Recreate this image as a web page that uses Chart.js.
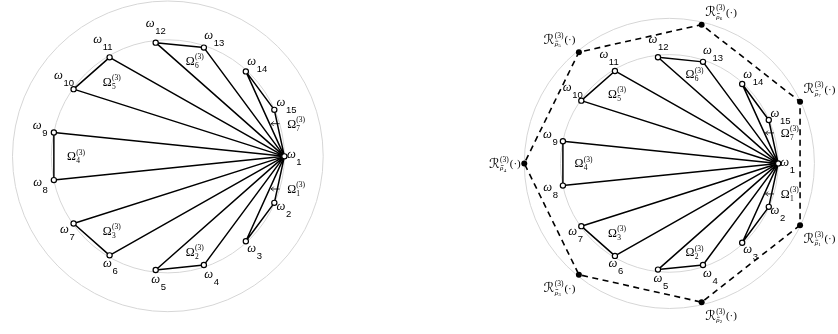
<!DOCTYPE html>
<html>
<head>
<meta charset="utf-8">
<script src="https://cdn.jsdelivr.net/npm/chart.js@4/dist/chart.umd.min.js"></script>
<style>
  html, body { margin: 0; padding: 0; background: #fff; }
  #wrap { width: 838px; height: 334px; position: relative; }
  canvas { display: block; }
</style>
</head>
<body>
<div id="wrap"><canvas id="chart" width="838" height="334"></canvas></div>
<script>
// Sample points ω_1 … ω_15, evenly spaced on the unit circle (ω_1 at angle 0, clockwise).
const NODE_IDS = [1, 2, 3, 4, 5, 6, 7, 8, 9, 10, 11, 12, 13, 14, 15];
// Cells Ω_k^(3): each cell is the triangle ω_1, ω_a, ω_b.
const CELL_IDS = [1, 2, 3, 4, 5, 6, 7];
const CELL_PAIRS = [[2, 3], [4, 5], [6, 7], [8, 9], [10, 11], [12, 13], [14, 15]];
// Cells too thin to carry their name inside; they get an arrow from outside.
const CALLOUT_CELLS = [1, 7];
// Representatives R_{ρ̄_k}^(3)(·) on the outer ring (right panel only).
const REGION_IDS = [1, 2, 3, 4, 5, 6, 7];
const LEVEL = '(3)';

const DEG = Math.PI / 180;
const RING = 1.333;            // outer ring radius, in units of the point circle
const STEP = 360 / NODE_IDS.length;

function nodeAngle(id) { return (id - 1) * STEP * DEG; }
function nodePoint(id) { const a = nodeAngle(id); return { x: Math.cos(a), y: -Math.sin(a) }; }
function regionAngle(id) { return (2 * id - 1) * Math.PI / REGION_IDS.length; }
function regionPoint(id) { const a = regionAngle(id); return { x: RING * Math.cos(a), y: -RING * Math.sin(a) }; }

// Two panels share one canvas, each with its own pair of hidden linear axes.
const PANELS = [
  { x: 'x',  y: 'y',  cx: 164.7, cy: 156.0, unit: 118.0, regions: false },
  { x: 'x2', y: 'y2', cx: 672.5, cy: 163.3, unit: 110.2, regions: true }
];
const W = 838, H = 334;

const datasets = [];
PANELS.forEach(p => {
  CELL_PAIRS.forEach(pair => {
    datasets.push({
      data: [1, pair[0], pair[1], 1].map(nodePoint),
      xAxisID: p.x, yAxisID: p.y,
      showLine: true, borderColor: '#000', borderWidth: 1.5,
      borderJoinStyle: 'bevel', pointRadius: 0, order: 2
    });
  });
  if (p.regions) {
    datasets.push({
      data: [...REGION_IDS, REGION_IDS[0]].map(regionPoint),
      xAxisID: p.x, yAxisID: p.y,
      showLine: true, borderColor: '#000', borderWidth: 1.6,
      borderDash: [6, 4.5], pointRadius: 0, order: 3
    });
    datasets.push({
      data: REGION_IDS.map(regionPoint),
      xAxisID: p.x, yAxisID: p.y,
      showLine: false, pointRadius: 3, pointBorderWidth: 0,
      pointBackgroundColor: '#000', pointBorderColor: '#000', order: 1
    });
  }
  datasets.push({
    data: NODE_IDS.map(nodePoint),
    xAxisID: p.x, yAxisID: p.y,
    showLine: false, pointRadius: 2.6, pointBorderWidth: 1.2,
    pointBackgroundColor: '#fff', pointBorderColor: '#000', order: 0
  });
});

const scales = {};
PANELS.forEach(p => {
  scales[p.x] = { type: 'linear', axis: 'x', display: false,
    min: -p.cx / p.unit, max: (W - p.cx) / p.unit };
  scales[p.y] = { type: 'linear', axis: 'y', display: false,
    min: -(H - p.cy) / p.unit, max: p.cy / p.unit };
});

function toPx(chart, p, pt) {
  return { x: chart.scales[p.x].getPixelForValue(pt.x), y: chart.scales[p.y].getPixelForValue(pt.y) };
}
function unitPx(chart, p) {
  const s = chart.scales[p.x];
  return s.getPixelForValue(1) - s.getPixelForValue(0);
}

// Light grey guide circles: the point circle and the outer ring.
const ringsPlugin = {
  id: 'rings',
  beforeDatasetsDraw(chart) {
    const ctx = chart.ctx;
    ctx.save();
    ctx.strokeStyle = '#d6d6d6';
    ctx.lineWidth = 1;
    PANELS.forEach(p => {
      const c = toPx(chart, p, { x: 0, y: 0 });
      const u = unitPx(chart, p);
      [1, RING].forEach(r => {
        ctx.beginPath();
        ctx.arc(c.x, c.y, r * u, 0, 2 * Math.PI);
        ctx.stroke();
      });
    });
    ctx.restore();
  }
};

const SERIF = '"Liberation Serif", "DejaVu Serif", serif';
const SANS = '"Liberation Sans", Arial, sans-serif';
const SCRIPT = '"DejaVu Serif", "DejaVu Sans", serif';

// Offset of the ω glyph centre from its point: the index hangs below-right of ω,
// so names on the upper-left side sit further out than those below.
function nodeLabelOffset(a) {
  const c = Math.cos(a), s = Math.sin(a);
  let dx, dy;
  if (c >= 0) dx = 4 + 3 * c;
  else if (s > 0) dx = -17.6 * Math.pow(-c, 3);
  else dx = -17 * Math.sqrt(-c);
  if (s > 0) dy = 10 * s + 1;
  else dy = -(c < 0 ? 18 : 11) * Math.pow(-s, 0.7) - 0.5;
  return { dx, dy };
}

function cellNameWidth(ctx, id) {
  ctx.font = '12px ' + SERIF;
  const w = ctx.measureText('Ω').width;
  ctx.font = '7.5px ' + SERIF;
  return w + 0.3 + Math.max(ctx.measureText(String(id)).width, ctx.measureText(LEVEL).width);
}
function drawCellName(ctx, left, cy, id) {
  ctx.font = '12px ' + SERIF;
  const w = ctx.measureText('Ω').width;
  const base = cy + 4;
  ctx.fillText('Ω', left, base);
  ctx.font = '7.5px ' + SERIF;
  ctx.fillText(String(id), left + w + 0.3, base + 3);
  ctx.fillText(LEVEL, left + w + 0.3, base - 5.8);
}

// Thin left-pointing arrow, centred on (x, y).
function drawLeftArrow(ctx, x, y, len) {
  ctx.save();
  ctx.strokeStyle = '#000';
  ctx.lineWidth = 0.8;
  ctx.beginPath();
  ctx.moveTo(x + len / 2, y);
  ctx.lineTo(x - len / 2, y);
  ctx.moveTo(x - len / 2 + 2.6, y - 2.3);
  ctx.quadraticCurveTo(x - len / 2 + 1, y - 0.4, x - len / 2, y);
  ctx.quadraticCurveTo(x - len / 2 + 1, y + 0.4, x - len / 2 + 2.6, y + 2.3);
  ctx.stroke();
  ctx.restore();
}

function regionLabelParts(ctx, id) {
  ctx.font = '13.5px ' + SCRIPT; const wR = ctx.measureText('ℛ').width;
  ctx.font = '7.5px ' + SERIF; const wSup = ctx.measureText(LEVEL).width;
  ctx.font = 'italic 7px ' + SERIF; const wRho = ctx.measureText('ρ').width;
  ctx.font = '5px ' + SERIF; const wIdx = ctx.measureText(String(id)).width;
  ctx.font = '11px ' + SERIF; const wArg = ctx.measureText('(·)').width;
  const wStack = Math.max(wSup, wRho + wIdx + 0.3);
  return { wR, wSup, wRho, wIdx, wArg, wStack, total: wR + 0.3 + wStack + 1 + wArg };
}
function drawRegionLabel(ctx, left, cy, id) {
  const m = regionLabelParts(ctx, id);
  const base = cy + 4.5;
  ctx.font = '13.5px ' + SCRIPT;
  ctx.fillText('ℛ', left, base);
  const sx = left + m.wR + 0.3;
  ctx.font = '7.5px ' + SERIF;
  ctx.fillText(LEVEL, sx, base - 6);
  ctx.font = 'italic 7px ' + SERIF;
  ctx.fillText('ρ', sx, base + 2.5);
  ctx.fillRect(sx + 0.8, base - 2.8, m.wRho - 0.6, 0.6);
  ctx.font = '5px ' + SERIF;
  ctx.fillText(String(id), sx + m.wRho + 0.3, base + 3.6);
  ctx.font = '11px ' + SERIF;
  ctx.fillText('(·)', sx + m.wStack + 1, base - 0.5);
}

const labelsPlugin = {
  id: 'labels',
  afterDatasetsDraw(chart) {
    const ctx = chart.ctx;
    ctx.save();
    ctx.fillStyle = '#000';
    ctx.textAlign = 'left';
    ctx.textBaseline = 'alphabetic';
    PANELS.forEach(p => {
      const k = unitPx(chart, p) / 118;
      const origin = toPx(chart, p, nodePoint(1));

      // ω_i names next to each point
      NODE_IDS.forEach(id => {
        const a = nodeAngle(id);
        const n = toPx(chart, p, nodePoint(id));
        const off = nodeLabelOffset(a);
        const gx = n.x + off.dx * k, gy = n.y + off.dy * k;
        ctx.font = 'italic 12.5px ' + SERIF;
        const wo = ctx.measureText('ω').width;
        ctx.fillText('ω', gx - wo / 2, gy + 2.6);
        ctx.font = '9.5px ' + SANS;
        ctx.fillText(String(id), gx + wo / 2 + 0.6, gy + 9.6);
      });

      // Ω_k^(3) names
      CELL_IDS.forEach(id => {
        const pair = CELL_PAIRS[id - 1];
        if (CALLOUT_CELLS.includes(id)) {
          const near = pair.reduce((b, q) => Math.cos(nodeAngle(q)) > Math.cos(nodeAngle(b)) ? q : b);
          const np = toPx(chart, p, nodePoint(near));
          const ax = np.x + 1 * k;
          const ay = np.y - Math.sign(np.y - origin.y) * 14 * k;
          drawLeftArrow(ctx, ax, ay, 8.5);
          drawCellName(ctx, ax + 12 * k, ay, id);
        } else {
          const pa = nodePoint(pair[0]), pb = nodePoint(pair[1]), o = nodePoint(1);
          const mx = (pa.x + pb.x) / 2, my = (pa.y + pb.y) / 2;
          const dx = o.x - mx, dy = o.y - my, d = Math.hypot(dx, dy);
          const pos = toPx(chart, p, { x: mx + 0.19 * dx / d, y: my + 0.19 * dy / d });
          const w = cellNameWidth(ctx, id);
          drawCellName(ctx, pos.x - w / 2, pos.y, id);
        }
      });

      // R_{ρ̄_k}^(3)(·) names beside the ring points
      if (p.regions) {
        REGION_IDS.forEach(id => {
          const a = regionAngle(id), c = Math.cos(a), s = Math.sin(a);
          const rp = toPx(chart, p, regionPoint(id));
          const m = regionLabelParts(ctx, id);
          const cy = rp.y + (Math.abs(s) > 0.1 ? Math.sign(s) * 13 : 0);
          const left = c > 0.1 ? rp.x + 3.5 : rp.x - 3.5 - m.total;
          drawRegionLabel(ctx, left, cy, id);
        });
      }
    });
    ctx.restore();
  }
};

new Chart(document.getElementById('chart'), {
  type: 'scatter',
  data: { datasets },
  options: {
    responsive: false,
    animation: false,
    events: [],
    layout: { padding: 0 },
    plugins: { legend: { display: false }, tooltip: { enabled: false } },
    scales
  },
  plugins: [ringsPlugin, labelsPlugin]
});
</script>
</body>
</html>
